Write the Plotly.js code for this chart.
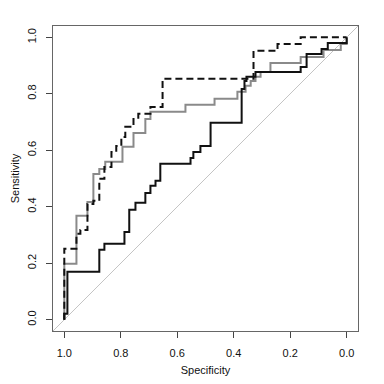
<!DOCTYPE html>
<html>
<head>
<meta charset="utf-8">
<script src="https://cdn.plot.ly/plotly-3.0.1.min.js"></script>
<style>html,body{margin:0;padding:0;background:#fff;}#chart{width:384px;height:384px;}</style>
</head>
<body>
<div id="chart"></div>
<script>
// Black solid curve (specificity, sensitivity)
const blackSpec = [1,1,0.989,0.989,0.876,0.876,0.858,0.858,0.787,0.787,0.770,0.770,0.748,0.748,0.713,0.713,0.695,0.695,0.677,0.677,0.660,0.660,0.553,0.553,0.543,0.543,0.518,0.518,0.482,0.482,0.372,0.372,0.362,0.362,0.355,0.355,0.323,0.323,0.163,0.163,0.142,0.142,0.089,0.089,0.067,0.067,0,0];
const blackSens = [0,0.021,0.021,0.170,0.170,0.248,0.248,0.269,0.269,0.311,0.311,0.389,0.389,0.414,0.414,0.449,0.449,0.474,0.474,0.492,0.492,0.552,0.552,0.573,0.573,0.594,0.594,0.615,0.615,0.697,0.697,0.817,0.817,0.845,0.845,0.860,0.860,0.877,0.877,0.895,0.895,0.941,0.941,0.959,0.959,0.980,0.980,1];

// Gray solid curve
const graySpec = [1,1,0.957,0.957,0.918,0.918,0.897,0.897,0.876,0.876,0.855,0.855,0.794,0.794,0.755,0.755,0.713,0.713,0.695,0.695,0.571,0.571,0.468,0.468,0.387,0.387,0.358,0.358,0.340,0.340,0.323,0.323,0.305,0.305,0.270,0.270,0.163,0.163,0.082,0.082,0.021,0.021,0,0];
const graySens = [0,0.198,0.198,0.368,0.368,0.417,0.417,0.516,0.516,0.534,0.534,0.559,0.559,0.612,0.612,0.661,0.661,0.711,0.711,0.736,0.736,0.761,0.761,0.782,0.782,0.807,0.807,0.828,0.828,0.845,0.845,0.860,0.860,0.877,0.877,0.909,0.909,0.930,0.930,0.955,0.955,0.976,0.976,1];

// Black dashed curve
const dashSpec = [1,1,0.957,0.957,0.943,0.943,0.918,0.918,0.897,0.897,0.876,0.876,0.858,0.858,0.833,0.833,0.816,0.816,0.798,0.798,0.784,0.784,0.755,0.755,0.738,0.738,0.695,0.695,0.652,0.652,0.330,0.330,0.245,0.245,0.163,0.163,0];
const dashSens = [0,0.251,0.251,0.304,0.304,0.318,0.318,0.410,0.410,0.421,0.421,0.499,0.499,0.541,0.541,0.594,0.594,0.615,0.615,0.647,0.647,0.683,0.683,0.711,0.711,0.729,0.729,0.753,0.753,0.853,0.853,0.952,0.952,0.976,0.976,1,1];

const tickVals = [1.0,0.8,0.6,0.4,0.2,0.0];
const tickText = ['1.0','0.8','0.6','0.4','0.2','0.0'];
const yTickVals = [0.0,0.2,0.4,0.6,0.8,1.0];
const yTickText = ['0.0','0.2','0.4','0.6','0.8','1.0'];

const font = {family:'Liberation Sans, Arial, sans-serif', size:11, color:'#111'};

const traces = [
  {x:graySpec, y:graySens, type:'scatter', mode:'lines', line:{color:'#8a8a8a', width:2}, hoverinfo:'skip'},
  {x:dashSpec, y:dashSens, type:'scatter', mode:'lines', line:{color:'#111', width:2, dash:'7px,4px'}, hoverinfo:'skip'},
  {x:blackSpec, y:blackSens, type:'scatter', mode:'lines', line:{color:'#111', width:2}, hoverinfo:'skip'}
];

const layout = {
  width:384, height:384,
  margin:{l:53, r:26, t:26, b:53},
  paper_bgcolor:'#fff', plot_bgcolor:'#fff',
  showlegend:false,
  font:font,
  xaxis:{range:[1.04,-0.04], tickvals:tickVals, ticktext:tickText, ticks:'outside', ticklen:6, tickcolor:'#444', tickwidth:1,
         showgrid:false, zeroline:false, showline:true, mirror:true, linecolor:'#666', linewidth:1,
         tickfont:font, ticklabelstandoff:6,
         title:{text:'Specificity', font:font, standoff:8}, automargin:false},
  yaxis:{range:[-0.04,1.04], tickvals:yTickVals, ticktext:yTickText, ticks:'outside', ticklen:6, tickcolor:'#444', tickwidth:1,
         showgrid:false, zeroline:false, showline:true, mirror:true, linecolor:'#666', linewidth:1,
         tickfont:font, tickangle:-90, ticklabelstandoff:6,
         title:{text:'Sensitivity', font:font, standoff:3}, automargin:false},
  shapes:[{type:'line', xref:'x', yref:'y', x0:1.04, y0:-0.04, x1:-0.04, y1:1.04, line:{color:'#c4c4c4', width:1}, layer:'below'}]
};

Plotly.newPlot('chart', traces, layout, {staticPlot:true, displayModeBar:false});
</script>
</body>
</html>
